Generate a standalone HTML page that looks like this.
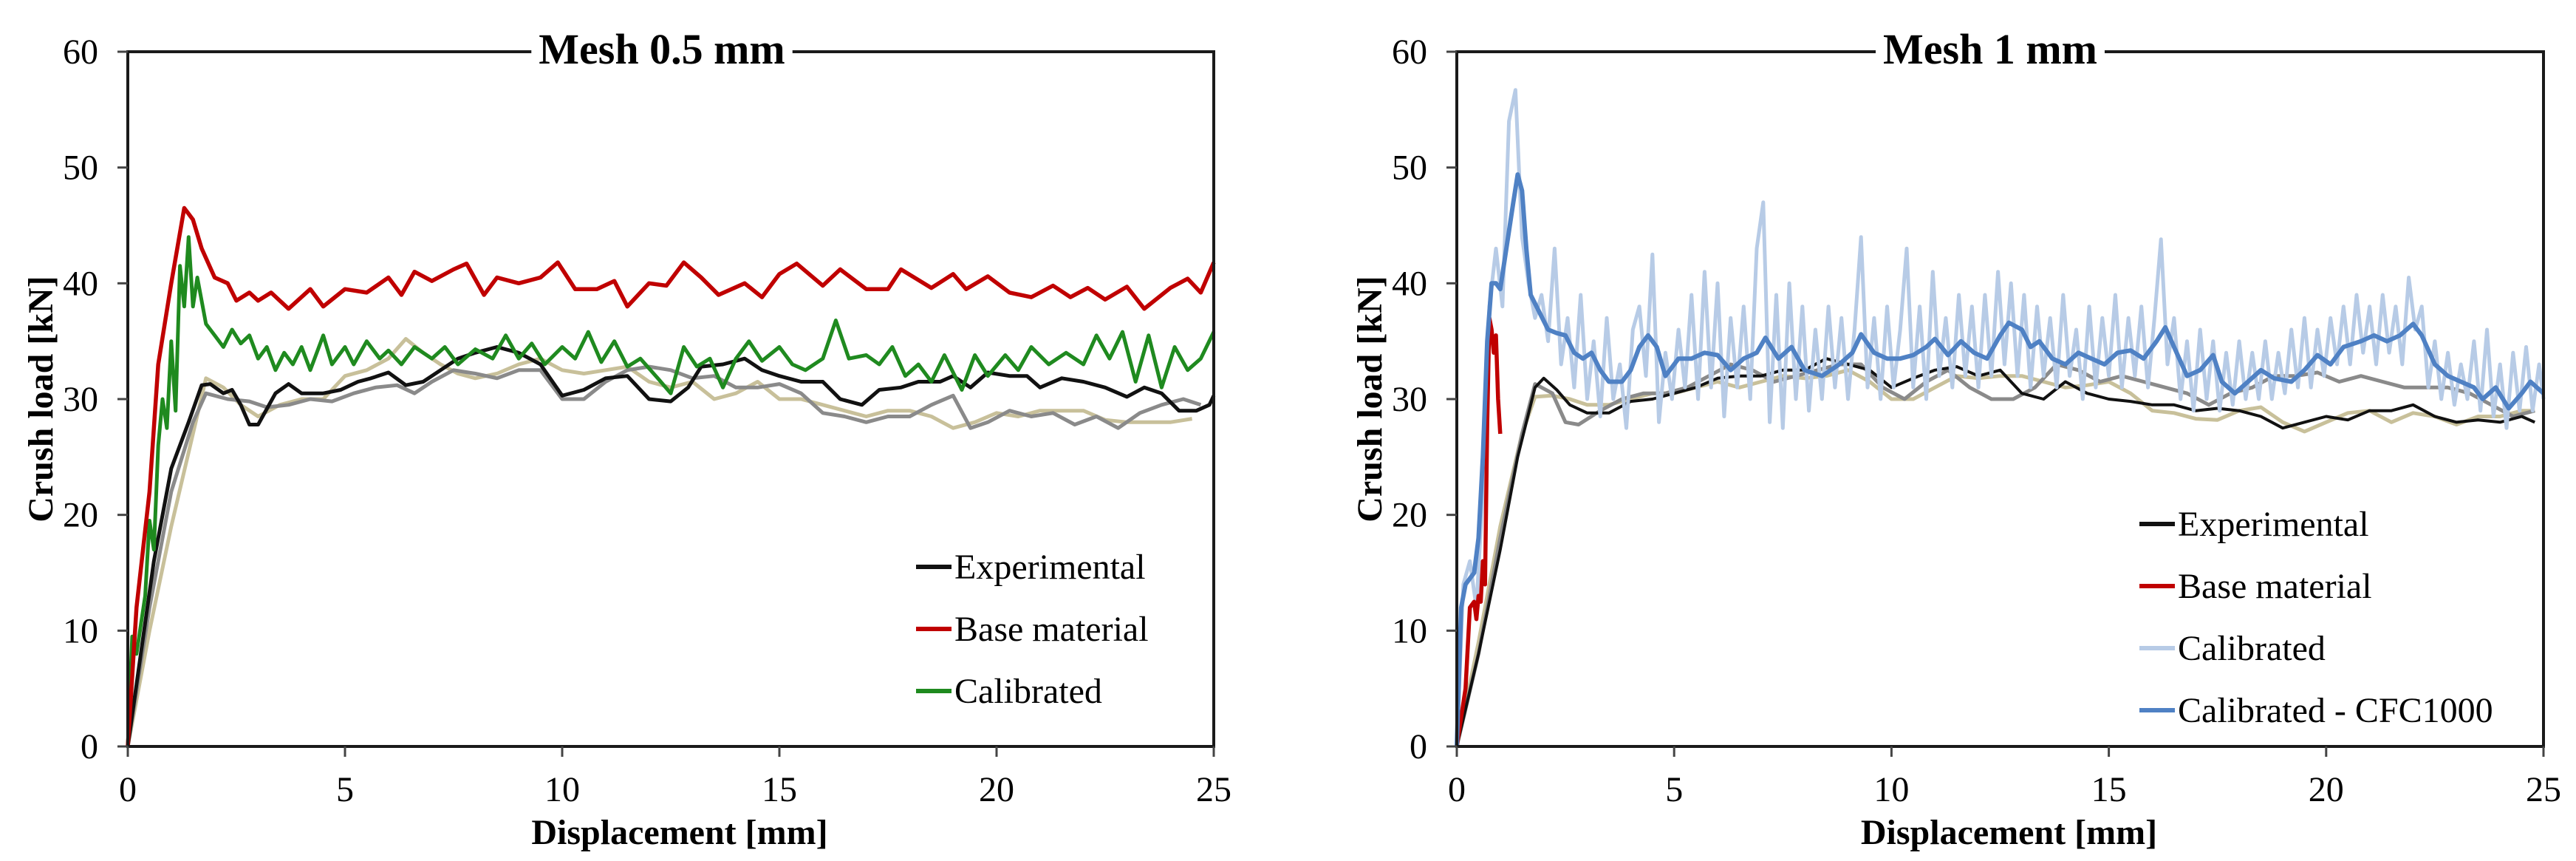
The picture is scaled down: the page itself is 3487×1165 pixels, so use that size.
<!DOCTYPE html>
<html><head><meta charset="utf-8"><style>
html,body{margin:0;padding:0;background:#fff;}
svg{display:block;font-family:"Liberation Serif",serif;}
</style></head><body>
<svg id="chart" width="3487" height="1165" viewBox="0 0 3487 1165" xmlns="http://www.w3.org/2000/svg"></svg>
<script>
const xTicks=[0,5,10,15,20,25];
const yTicks=[0,10,20,30,40,50,60];

const leftBase=[[0,0],[0.2,12],[0.5,22],[0.7,33],[1.0,40],[1.3,46.5],[1.5,45.5],[1.7,43],[2.0,40.5],[2.3,40],[2.5,38.5],[2.8,39.2],[3.0,38.5],[3.3,39.2],[3.7,37.8],[4.2,39.5],[4.5,38],[5,39.5],[5.5,39.2],[6,40.5],[6.3,39],[6.6,41],[7,40.2],[7.5,41.2],[7.8,41.7],[8.2,39],[8.5,40.5],[9,40],[9.5,40.5],[9.9,41.8],[10.3,39.5],[10.8,39.5],[11.2,40.2],[11.5,38],[12,40],[12.4,39.8],[12.8,41.8],[13.2,40.5],[13.6,39],[14.2,40],[14.6,38.8],[15,40.8],[15.4,41.7],[16,39.8],[16.4,41.2],[17,39.5],[17.5,39.5],[17.8,41.2],[18.5,39.6],[19,40.8],[19.3,39.5],[19.8,40.6],[20.3,39.2],[20.8,38.8],[21.3,39.8],[21.7,38.8],[22.1,39.6],[22.5,38.6],[23,39.7],[23.4,37.8],[24,39.6],[24.4,40.4],[24.7,39.2],[25,41.8]];
const leftCal=[[0,0],[0.1,9.5],[0.2,8],[0.4,13],[0.5,19.5],[0.6,17],[0.7,26],[0.8,30],[0.9,27.5],[1.0,35],[1.1,29],[1.2,41.5],[1.3,38],[1.4,44],[1.5,38],[1.6,40.5],[1.8,36.5],[2.0,35.5],[2.2,34.5],[2.4,36],[2.6,34.8],[2.8,35.5],[3.0,33.5],[3.2,34.5],[3.4,32.5],[3.6,34],[3.8,33],[4,34.5],[4.2,32.5],[4.5,35.5],[4.7,33],[5,34.5],[5.2,33],[5.5,35],[5.8,33.5],[6,34.2],[6.3,33],[6.6,34.5],[7,33.5],[7.3,34.5],[7.6,33],[8,34.3],[8.4,33.5],[8.7,35.5],[9,33.5],[9.3,34.8],[9.6,33],[10,34.5],[10.3,33.5],[10.6,35.8],[10.9,33.2],[11.2,35],[11.5,32.8],[11.8,33.5],[12.2,31.8],[12.5,30.5],[12.8,34.5],[13.1,32.8],[13.4,33.5],[13.7,31],[14,33.5],[14.3,35],[14.6,33.3],[15,34.5],[15.3,33],[15.6,32.5],[16,33.5],[16.3,36.8],[16.6,33.5],[17,33.8],[17.3,33],[17.6,34.5],[17.9,32],[18.2,33],[18.5,31.5],[18.8,33.8],[19.2,30.8],[19.5,33.8],[19.8,32],[20.2,33.8],[20.5,32.5],[20.8,34.5],[21.2,33],[21.6,34],[22,33],[22.3,35.5],[22.6,33.5],[22.9,35.8],[23.2,31.5],[23.5,35.5],[23.8,31],[24.1,34.5],[24.4,32.5],[24.7,33.5],[25,35.8]];
const leftExp=[[0,0],[0.3,8],[0.6,16],[1.0,24],[1.4,28],[1.7,31.2],[1.9,31.3],[2.2,30.5],[2.4,30.8],[2.6,29.5],[2.8,27.8],[3.0,27.8],[3.4,30.5],[3.7,31.3],[4.0,30.5],[4.5,30.5],[4.9,30.8],[5.3,31.5],[5.6,31.8],[6,32.3],[6.4,31.2],[6.8,31.5],[7.2,32.5],[7.6,33.5],[8,34],[8.5,34.5],[9,34],[9.5,33],[10,30.3],[10.5,30.8],[11,31.8],[11.5,32],[12,30],[12.5,29.8],[12.9,31],[13.2,32.8],[13.7,33],[14.2,33.5],[14.6,32.5],[15,32],[15.5,31.5],[16,31.5],[16.4,30],[16.9,29.5],[17.3,30.8],[17.8,31],[18.2,31.5],[18.7,31.5],[19,32],[19.4,31],[19.8,32.3],[20.3,32],[20.7,32],[21,31],[21.5,31.8],[22,31.5],[22.5,31],[23,30.2],[23.4,31],[23.8,30.5],[24.2,29],[24.6,29],[24.9,29.5],[25,30.3]];
const leftGray=[[0,0],[0.5,12],[1,22],[1.5,28],[1.8,30.5],[2.3,30],[2.8,29.8],[3.2,29.3],[3.7,29.5],[4.2,30],[4.7,29.8],[5.2,30.5],[5.7,31],[6.2,31.2],[6.6,30.5],[7,31.5],[7.5,32.5],[8,32.2],[8.5,31.8],[9,32.5],[9.5,32.5],[10,30],[10.5,30],[11,31.5],[11.5,32.5],[12,32.8],[12.5,32.5],[13,31.8],[13.5,32],[14,31],[14.5,31],[15,31.3],[15.5,30.5],[16,28.8],[16.5,28.5],[17,28],[17.5,28.5],[18,28.5],[18.5,29.5],[19,30.3],[19.4,27.5],[19.8,28],[20.3,29],[20.8,28.5],[21.3,28.8],[21.8,27.8],[22.3,28.5],[22.8,27.5],[23.3,28.8],[23.8,29.5],[24.3,30],[24.7,29.5]];
const leftTan=[[0,0],[0.5,10],[1,19],[1.5,27],[1.8,31.8],[2.2,31],[2.6,29.5],[3,28.5],[3.5,29.5],[4,30],[4.5,30],[5,32],[5.5,32.5],[6,33.5],[6.4,35.2],[6.8,34],[7.2,33],[7.6,32.2],[8,31.8],[8.5,32.2],[9,33],[9.5,33.5],[10,32.5],[10.5,32.2],[11,32.5],[11.5,32.8],[12,31.5],[12.5,31],[13,31.5],[13.5,30],[14,30.5],[14.5,31.5],[15,30],[15.5,30],[16,29.5],[16.5,29],[17,28.5],[17.5,29],[18,29],[18.5,28.5],[19,27.5],[19.5,28],[20,28.8],[20.5,28.5],[21,29],[21.5,29],[22,29],[22.5,28.2],[23,28],[23.5,28],[24,28],[24.5,28.3]];

const rightExp=[[0,0],[0.5,8],[1,17],[1.4,25],[1.8,31],[2.0,31.8],[2.3,30.8],[2.6,29.5],[3,28.8],[3.5,28.8],[4,29.8],[4.5,30],[5,30.5],[5.5,31],[6,31.8],[6.5,32],[7,32],[7.5,32.5],[8,32.5],[8.5,33.5],[9,33],[9.5,32.5],[10,31],[10.5,31.8],[11,32.5],[11.5,32.8],[12,32],[12.5,32.5],[13,30.5],[13.5,30],[14,31.5],[14.5,30.5],[15,30],[15.5,29.8],[16,29.5],[16.5,29.5],[17,29],[17.5,29.2],[18,29],[18.5,28.5],[19,27.5],[19.5,28],[20,28.5],[20.5,28.2],[21,29],[21.5,29],[22,29.5],[22.5,28.5],[23,28],[23.5,28.2],[24,28],[24.5,28.5],[24.8,28]];
const rightGray=[[0,0],[0.5,8],[1,18],[1.5,27],[1.8,31.3],[2.2,30.5],[2.5,28],[2.8,27.8],[3.3,29],[3.8,30],[4.3,30.5],[4.8,30.5],[5.3,31],[5.8,32],[6.3,33],[6.8,32.5],[7.3,31.5],[7.8,32],[8.3,32.5],[8.8,33],[9.3,33],[9.8,31],[10.3,30],[10.8,31.5],[11.3,32.5],[11.8,31],[12.3,30],[12.8,30],[13.3,31],[13.8,33],[14.3,32.5],[14.8,31.5],[15.3,32],[15.8,31.5],[16.3,31],[16.8,30.5],[17.3,29.5],[17.8,30.5],[18.3,31],[18.8,32],[19.3,32],[19.8,32.3],[20.3,31.5],[20.8,32],[21.3,31.5],[21.8,31],[22.3,31],[22.8,31],[23.3,30.5],[23.8,29.5],[24.3,28.5],[24.8,29]];
const rightTan=[[0,0],[0.5,9],[1,19],[1.5,27],[1.8,30.2],[2.2,30.3],[2.6,30],[3,29.5],[3.5,29.5],[4,30],[4.5,30.5],[5,30.5],[5.5,31],[6,31.5],[6.5,31],[7,31.5],[7.5,32],[8,31.8],[8.5,32],[9,32.5],[9.5,31.5],[10,30],[10.5,30],[11,31],[11.5,32],[12,31.8],[12.5,32],[13,32],[13.5,31.5],[14,31],[14.5,31.2],[15,31.5],[15.5,30.5],[16,29],[16.5,28.8],[17,28.3],[17.5,28.2],[18,29],[18.5,29.3],[19,28],[19.5,27.2],[20,28],[20.5,28.8],[21,29],[21.5,28],[22,28.8],[22.5,28.5],[23,27.8],[23.5,28.5],[24,28.5],[24.5,29],[24.8,29]];
const rightBase=[[0,0],[0.2,5],[0.3,12],[0.4,12.5],[0.45,11],[0.5,13],[0.55,12.5],[0.6,16],[0.65,14],[0.7,28],[0.75,37],[0.8,36],[0.85,34],[0.9,35.5],[0.95,30],[1.0,27]];
const rightCal=[[0,0],[0.15,14],[0.3,16],[0.45,12],[0.6,22],[0.75,38],[0.9,43],[1.05,38],[1.2,54],[1.35,56.7],[1.5,44],[1.65,40],[1.8,37],[1.95,39],[2.1,35],[2.25,43],[2.4,33],[2.55,37],[2.7,31],[2.85,39],[3.0,30],[3.15,35],[3.3,28.5],[3.45,37],[3.6,30],[3.75,33],[3.9,27.5],[4.05,36],[4.2,38],[4.35,32],[4.5,42.5],[4.65,28],[4.8,34],[4.95,30],[5.1,36],[5.25,31],[5.4,39],[5.55,30],[5.7,41],[5.85,31],[6.0,40],[6.15,28.5],[6.3,37],[6.45,31],[6.6,38],[6.75,30],[6.9,43],[7.05,47],[7.2,28],[7.35,39],[7.5,27.5],[7.65,40],[7.8,30],[7.95,38],[8.1,29],[8.25,36],[8.4,30],[8.55,38],[8.7,31],[8.85,37],[9.0,30],[9.15,36],[9.3,44],[9.45,31],[9.6,37],[9.75,30],[9.9,38],[10.05,31],[10.2,36],[10.35,43],[10.5,31],[10.65,38],[10.8,30],[10.95,41],[11.1,32],[11.25,37],[11.4,31],[11.55,39],[11.7,32],[11.85,38],[12.0,31],[12.15,39],[12.3,32],[12.45,41],[12.6,33],[12.75,40],[12.9,32],[13.05,39],[13.2,31],[13.35,38],[13.5,32],[13.65,37],[13.8,31],[13.95,39],[14.1,32],[14.25,36],[14.4,30],[14.55,38],[14.7,31],[14.85,37],[15.0,32],[15.15,39],[15.3,31],[15.45,37],[15.6,32],[15.75,38],[15.9,31],[16.05,37],[16.2,43.8],[16.35,33],[16.5,37],[16.65,30],[16.8,35],[16.95,29],[17.1,36],[17.25,30],[17.4,35],[17.55,29],[17.7,34],[17.85,29.5],[18.0,35],[18.15,30],[18.3,34],[18.45,30],[18.6,35],[18.75,30],[18.9,34],[19.05,30.5],[19.2,36],[19.35,31],[19.5,37],[19.65,31],[19.8,36],[19.95,32],[20.1,37],[20.25,33],[20.4,38],[20.55,33],[20.7,39],[20.85,34],[21.0,38],[21.15,33],[21.3,39],[21.45,34],[21.6,38],[21.75,33],[21.9,40.5],[22.05,36],[22.2,38],[22.35,31],[22.5,35],[22.65,30],[22.8,34],[22.95,29.5],[23.1,33],[23.25,30],[23.4,35],[23.55,29],[23.7,36],[23.85,28.5],[24.0,33],[24.15,27.5],[24.3,34],[24.45,29],[24.6,34.5],[24.75,29],[24.9,33],[25,30]];
const rightCfc=[[0,0],[0.1,12],[0.2,14],[0.4,15],[0.5,18],[0.6,25],[0.7,35],[0.8,40],[0.9,40],[1.0,39.5],[1.1,42],[1.3,47],[1.4,49.4],[1.5,48],[1.6,43],[1.7,39],[1.9,37.5],[2.1,36],[2.3,35.7],[2.5,35.5],[2.7,34],[2.9,33.5],[3.1,34],[3.3,32.5],[3.5,31.5],[3.8,31.5],[4,32.5],[4.2,34.5],[4.4,35.5],[4.6,34.5],[4.8,32],[5.1,33.5],[5.4,33.5],[5.7,34],[6,33.8],[6.3,32.5],[6.6,33.5],[6.9,34],[7.1,35.3],[7.4,33.5],[7.7,34.5],[8,32.5],[8.4,32],[8.8,33],[9.1,34],[9.3,35.6],[9.6,34],[9.9,33.5],[10.2,33.5],[10.5,33.8],[10.8,34.5],[11,35.2],[11.3,33.8],[11.6,35],[11.9,34],[12.2,33.5],[12.5,35.5],[12.7,36.6],[13,36],[13.2,34.5],[13.4,35],[13.7,33.5],[14,33],[14.3,34],[14.6,33.5],[14.9,33],[15.2,34],[15.5,34.2],[15.8,33.5],[16.1,35],[16.3,36.2],[16.5,34.5],[16.8,32],[17.1,32.5],[17.4,33.8],[17.6,31.5],[17.9,30.5],[18.2,31.5],[18.5,32.5],[18.8,31.8],[19.2,31.5],[19.5,32.5],[19.8,33.8],[20.1,33],[20.4,34.5],[20.8,35],[21.1,35.5],[21.4,35],[21.7,35.5],[22,36.5],[22.2,35.5],[22.5,33],[22.8,32],[23.1,31.5],[23.4,31],[23.6,30],[23.9,31],[24.2,29.2],[24.5,30.5],[24.7,31.5],[25,30.5]];

const NS='http://www.w3.org/2000/svg';
const svg=document.getElementById('chart');
function mk(tag,attrs,parent){const e=document.createElementNS(NS,tag);for(const k in attrs)e.setAttribute(k,attrs[k]);(parent||svg).appendChild(e);return e;}

function panel(cfg){
  const g=mk('g',{});
  
  
  const X=v=>cfg.x0+(v/25)*(cfg.x1-cfg.x0);
  const Y=v=>cfg.y1-(v/60)*(cfg.y1-cfg.y0);
  cfg.series.forEach(s=>{
    const d=s.data.map((p,i)=>(i?'L':'M')+X(p[0]).toFixed(1)+' '+Y(p[1]).toFixed(1)).join(' ');
    const path=mk('path',{d:d,fill:'none',stroke:s.color,'stroke-width':s.w,'stroke-linejoin':'round'},g);
    
    
  });
  const frame=mk('path',{d:`M${cfg.x0} ${cfg.y0} V${cfg.y1} H${cfg.x1} V${cfg.y0} Z`,fill:'none',stroke:'#1a1a1a','stroke-width':4},g);
  
  
  yTicks.forEach(t=>{
    const ln=mk('line',{x1:cfg.x0-14,x2:cfg.x0,y1:Y(t),y2:Y(t),stroke:'#444','stroke-width':3},g);
    
    
    const tx=mk('text',{x:cfg.x0-40,y:Y(t)+16,'text-anchor':'end','font-size':48},g);
    tx.textContent=t;
    
    
  });
  xTicks.forEach(t=>{
    const ln=mk('line',{x1:X(t),x2:X(t),y1:cfg.y1,y2:cfg.y1+14,stroke:'#444','stroke-width':3},g);
    
    
    const tx=mk('text',{x:X(t),y:cfg.y1+74,'text-anchor':'middle','font-size':48},g);
    tx.textContent=t;
    
    
  });
  const tt=mk('text',{x:cfg.titleX,y:cfg.y0+16,'text-anchor':'middle','font-size':58,'font-weight':'bold'},g);
  tt.textContent=cfg.title;
  const bb=tt.getBBox();
  const bg=mk('rect',{x:bb.x-10,y:cfg.y0-6,width:bb.width+20,height:12,fill:'#fff'},g);
  g.insertBefore(bg,tt);
  
  
  const xt=mk('text',{x:(cfg.x0+cfg.x1)/2+12,y:1142,'text-anchor':'middle','font-size':48,'font-weight':'bold'},g);
  xt.textContent='Displacement [mm]';
  
  
  const yx=cfg.x0-102, yc=(cfg.y0+cfg.y1)/2;
  const yt=mk('text',{x:yx,y:yc,'text-anchor':'middle','font-size':48,'font-weight':'bold',transform:`rotate(-90 ${yx} ${yc})`},g);
  yt.textContent='Crush load [kN]';
  
  
  cfg.legend.forEach((l,i)=>{
    const ly=cfg.legY+i*84;
    const lg=mk('g',{},g);
    
    
    mk('line',{x1:cfg.legX,x2:cfg.legX+48,y1:ly,y2:ly,stroke:l.color,'stroke-width':6},lg);
    const t=mk('text',{x:cfg.legX+52,y:ly+16,'font-size':48},lg);
    t.textContent=l.label;
  });
}

panel({name:'mesh-0-5-chart',x0:173,x1:1643,y0:70,y1:1010,title:'Mesh 0.5 mm',titleX:896,legX:1240,legY:767,
  series:[{key:'tan-experimental',data:leftTan,color:'#c8c09a',w:5},{key:'gray-experimental',data:leftGray,color:'#8a8a8a',w:5},{key:'experimental-line',data:leftExp,color:'#111',w:5},{key:'calibrated-line',data:leftCal,color:'#1f8a1f',w:5},{key:'base-material-line',data:leftBase,color:'#c00000',w:5.5}],
  legend:[{label:'Experimental',color:'#111'},{label:'Base material',color:'#c00000'},{label:'Calibrated',color:'#1f8a1f'}]});
panel({name:'mesh-1-chart',x0:1972,x1:3443,y0:70,y1:1010,title:'Mesh 1 mm',titleX:2694,legX:2896,legY:709,
  series:[{key:'tan-experimental',data:rightTan,color:'#c8c09a',w:5},{key:'gray-experimental',data:rightGray,color:'#8a8a8a',w:5},{key:'experimental-line',data:rightExp,color:'#111',w:4},{key:'calibrated-line',data:rightCal,color:'#b7cbe6',w:5},{key:'base-material-line',data:rightBase,color:'#c00000',w:5.5},{key:'calibrated-cfc1000-line',data:rightCfc,color:'#4f81c4',w:6}],
  legend:[{label:'Experimental',color:'#111'},{label:'Base material',color:'#c00000'},{label:'Calibrated',color:'#b7cbe6'},{label:'Calibrated - CFC1000',color:'#4f81c4'}]});
</script>
</body></html>
